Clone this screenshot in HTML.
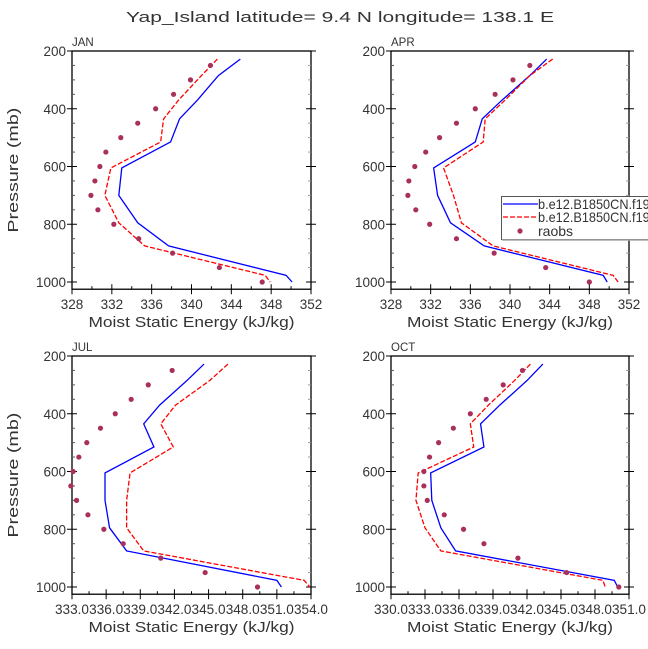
<!DOCTYPE html>
<html><head><meta charset="utf-8"><style>
body{margin:0;background:#fff;}
svg{display:block;font-family:"Liberation Sans","DejaVu Sans",sans-serif;}
</style></head><body>
<svg id="c" width="648" height="649" viewBox="0 0 648 649">
<text x="340" y="22" text-anchor="middle" font-size="15" fill="#333" textLength="428" lengthAdjust="spacingAndGlyphs">Yap_Island  latitude= 9.4 N longitude= 138.1 E</text>
</svg>
<script>
const modelLevels=[228,285,370,435,515,605,700,795,875,977,1000];
const obsLevels=[250,300,350,400,450,500,550,600,650,700,750,800,850,900,950,1000];
const janModelA=[344.9,342.7,340.6,338.8,337.9,333.0,332.7,334.6,337.7,349.5,350.1];
const janModelB=[342.6,341.0,338.7,337.2,336.9,331.9,331.3,332.7,335.3,347.4,347.9];
const janObs=[341.9,339.9,338.2,336.4,334.6,332.9,331.4,330.8,330.3,329.9,330.6,332.2,334.7,338.1,342.8,347.1];
const aprModelA=[343.7,342.0,339.2,337.2,336.5,332.3,332.7,334.0,337.4,349.4,349.8];
const aprModelB=[344.3,342.0,339.5,337.5,337.3,333.3,334.3,335.1,338.3,350.4,350.9];
const aprObs=[342.0,340.3,338.5,336.5,334.6,332.9,331.5,330.4,329.8,329.7,330.5,331.9,334.6,338.4,343.6,348.0];
const julModelA=[344.6,343.1,340.7,339.3,340.2,335.9,335.9,336.3,337.8,351.0,351.4];
const julModelB=[346.7,345.1,342.1,340.8,341.9,338.1,337.8,337.8,339.3,353.4,353.9];
const julObs=[341.8,339.7,338.2,336.8,335.5,334.3,333.6,333.1,332.9,333.4,334.4,335.8,337.5,340.8,344.7,349.3];
const octModelA=[343.4,342.0,339.6,337.9,338.2,333.5,333.6,334.4,335.7,349.7,350.0];
const octModelB=[342.3,340.9,338.6,337.0,337.3,332.4,332.2,333.0,334.4,348.7,348.9];
const octObs=[341.6,339.9,338.4,337.0,335.5,334.2,333.4,332.9,332.9,333.2,334.7,336.4,338.2,341.2,345.5,350.1];
const yTicks=[200,400,600,800,1000];
const janXTicks=[328,332,336,340,344,348,352];
const julXTicks=[333,336,339,342,345,348,351,354];
const octXTicks=[330,333,336,339,342,345,348,351];
const legendLabels=["b.e12.B1850CN.f19_g16","b.e12.B1850CN.f19_g16","raobs"];

const svg=document.getElementById('c');
const NS="http://www.w3.org/2000/svg";
function mk(tag,attrs,parent){const e=document.createElementNS(NS,tag);for(const k in attrs)e.setAttribute(k,attrs[k]);(parent||svg).appendChild(e);return e;}

const panels=[
 {name:'jan',label:'JAN',x0:72,x1:311,y0:51,xmin:328,xmax:352,ticks:janXTicks,minor:2,a:janModelA,b:janModelB,o:janObs,ylab:true},
 {name:'apr',label:'APR',x0:391,x1:629,y0:51,xmin:328,xmax:352,ticks:janXTicks,minor:2,a:aprModelA,b:aprModelB,o:aprObs,ylab:false},
 {name:'jul',label:'JUL',x0:72,x1:311,y0:356,xmin:333,xmax:354,ticks:julXTicks,minor:1.5,a:julModelA,b:julModelB,o:julObs,ylab:true},
 {name:'oct',label:'OCT',x0:391,x1:629,y0:356,xmin:330,xmax:351,ticks:octXTicks,minor:1.5,a:octModelA,b:octModelB,o:octObs,ylab:false}
];
panels.forEach(p=>{
 const yScale=v=>p.y0+(v-200)/800*231;
 const xScale=v=>p.x0+(v-p.xmin)/(p.xmax-p.xmin)*(p.x1-p.x0);
 const yb=yScale(1025);
 const g=mk('g',{});
 
 
 mk('rect',{x:p.x0,y:p.y0,width:p.x1-p.x0,height:yb-p.y0,fill:'none',stroke:'#000','stroke-width':1.3},g);
 const lab=mk('text',{x:p.x0,y:p.y0-5,'font-size':11.5,fill:'#333'},g);lab.textContent=p.label;
 
 
 for(let v=200;v<=1000;v+=50){
  const y=yScale(v);const major=yTicks.includes(v);
  if(major){
   mk('line',{x1:p.x0-5,x2:p.x0+5,y1:y,y2:y,stroke:'#000'},g);
   mk('line',{x1:p.x1-5,x2:p.x1+5,y1:y,y2:y,stroke:'#000'},g);
   const t=mk('text',{x:p.x0-6,y:y+5,'text-anchor':'end','font-size':13.5,fill:'#333'},g);t.textContent=v;
   
   
  } else {
   mk('line',{x1:p.x0,x2:p.x0+3,y1:y,y2:y,stroke:'#555'},g);
   mk('line',{x1:p.x1-3,x2:p.x1,y1:y,y2:y,stroke:'#999'},g);
  }
 }
 for(let v=p.xmin;v<=p.xmax+1e-6;v+=p.minor){
  const x=xScale(v);
  const major=p.ticks.some(t=>Math.abs(t-v)<1e-6);
  mk('line',{x1:x,x2:x,y1:yb-(major?5:3),y2:yb+(major?5:0),stroke:'#000'},g);
 }
 p.ticks.forEach(v=>{
  const x=xScale(v);
  const short=(p.name==='jan'||p.name==='apr');
  const t=mk('text',{x:x,y:yb+20,'text-anchor':'middle','font-size':13.5,fill:'#333'},g);
  t.textContent=short?String(v):(v+'.0');
  if(!short){t.setAttribute('textLength','34');t.setAttribute('lengthAdjust','spacingAndGlyphs');}
  
  
 });
 const xt=mk('text',{x:(p.x0+p.x1)/2,y:yb+38,'text-anchor':'middle','font-size':15,fill:'#333',textLength:206,lengthAdjust:'spacingAndGlyphs'},g);
 xt.textContent='Moist Static Energy (kJ/kg)';
 
 
 if(p.ylab){
  const cy=(p.y0+yb)/2;
  const yt=mk('text',{x:18,y:cy,'text-anchor':'middle','font-size':15,fill:'#333',textLength:125,lengthAdjust:'spacingAndGlyphs',transform:`rotate(-90 18 ${cy})`},g);
  yt.textContent='Pressure (mb)';
  
  
 }
 const ptsA=p.a.map((v,i)=>xScale(v)+','+yScale(modelLevels[i])).join(' ');
 const la=mk('polyline',{points:ptsA,fill:'none',stroke:'#0000ff','stroke-width':1.3},g);
 
 
 const ptsB=p.b.map((v,i)=>xScale(v)+','+yScale(modelLevels[i])).join(' ');
 const lb=mk('polyline',{points:ptsB,fill:'none',stroke:'#ff0000','stroke-width':1.3,'stroke-dasharray':'5,2'},g);
 
 
 p.o.forEach((v,i)=>{
  const c=mk('circle',{cx:xScale(v),cy:yScale(obsLevels[i]),r:2.6,fill:'#a8305a'},g);
  
  
 });
});
const lg=mk('g',{});


mk('rect',{x:501.5,y:196.5,width:160,height:43,fill:'#fff',stroke:'#555','stroke-width':1},lg);
mk('line',{x1:502,x2:648,y1:240,y2:240,stroke:'#aaa','stroke-width':1.5},lg);
const ly=[204,217,231];
mk('line',{x1:503,x2:538,y1:ly[0],y2:ly[0],stroke:'#0000ff','stroke-width':1.3},lg);
mk('line',{x1:503,x2:538,y1:ly[1],y2:ly[1],stroke:'#ff0000','stroke-width':1.3,'stroke-dasharray':'5,2'},lg);
mk('circle',{cx:520,cy:ly[2],r:2.6,fill:'#a8305a'},lg);
legendLabels.forEach((s,i)=>{
 const t=mk('text',{x:538,y:ly[i]+5,'font-size':14,fill:'#333'},lg);t.textContent=s;
 if(i<2){t.setAttribute('textLength','140');t.setAttribute('lengthAdjust','spacingAndGlyphs');}
 
 
});
</script>
</body></html>
